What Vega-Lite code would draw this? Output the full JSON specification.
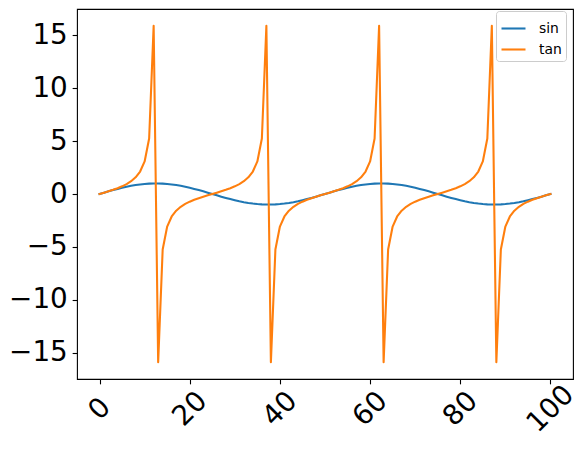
{
  "$schema": "https://vega.github.io/schema/vega-lite/v6.json",
  "width": 496,
  "height": 370,
  "autosize": {"type": "none"},
  "padding": {"left": 77, "top": 9, "right": 15, "bottom": 72},
  "background": "white",
  "data": {
    "values": [
      {"x":0,"sin":0,"tan":0},
      {"x":1,"sin":0.12533,"tan":0.12633},
      {"x":2,"sin":0.24869,"tan":0.25676},
      {"x":3,"sin":0.36812,"tan":0.39593},
      {"x":4,"sin":0.48175,"tan":0.54975},
      {"x":5,"sin":0.58779,"tan":0.72654},
      {"x":6,"sin":0.68455,"tan":0.93906},
      {"x":7,"sin":0.77051,"tan":1.20879},
      {"x":8,"sin":0.84433,"tan":1.57575},
      {"x":9,"sin":0.90483,"tan":2.12511},
      {"x":10,"sin":0.95106,"tan":3.07768},
      {"x":11,"sin":0.98229,"tan":5.24218},
      {"x":12,"sin":0.99803,"tan":15.89454},
      {"x":13,"sin":0.99803,"tan":-15.89454},
      {"x":14,"sin":0.98229,"tan":-5.24218},
      {"x":15,"sin":0.95106,"tan":-3.07768},
      {"x":16,"sin":0.90483,"tan":-2.12511},
      {"x":17,"sin":0.84433,"tan":-1.57575},
      {"x":18,"sin":0.77051,"tan":-1.20879},
      {"x":19,"sin":0.68455,"tan":-0.93906},
      {"x":20,"sin":0.58779,"tan":-0.72654},
      {"x":21,"sin":0.48175,"tan":-0.54975},
      {"x":22,"sin":0.36812,"tan":-0.39593},
      {"x":23,"sin":0.24869,"tan":-0.25676},
      {"x":24,"sin":0.12533,"tan":-0.12633},
      {"x":25,"sin":0,"tan":0},
      {"x":26,"sin":-0.12533,"tan":0.12633},
      {"x":27,"sin":-0.24869,"tan":0.25676},
      {"x":28,"sin":-0.36812,"tan":0.39593},
      {"x":29,"sin":-0.48175,"tan":0.54975},
      {"x":30,"sin":-0.58779,"tan":0.72654},
      {"x":31,"sin":-0.68455,"tan":0.93906},
      {"x":32,"sin":-0.77051,"tan":1.20879},
      {"x":33,"sin":-0.84433,"tan":1.57575},
      {"x":34,"sin":-0.90483,"tan":2.12511},
      {"x":35,"sin":-0.95106,"tan":3.07768},
      {"x":36,"sin":-0.98229,"tan":5.24218},
      {"x":37,"sin":-0.99803,"tan":15.89454},
      {"x":38,"sin":-0.99803,"tan":-15.89454},
      {"x":39,"sin":-0.98229,"tan":-5.24218},
      {"x":40,"sin":-0.95106,"tan":-3.07768},
      {"x":41,"sin":-0.90483,"tan":-2.12511},
      {"x":42,"sin":-0.84433,"tan":-1.57575},
      {"x":43,"sin":-0.77051,"tan":-1.20879},
      {"x":44,"sin":-0.68455,"tan":-0.93906},
      {"x":45,"sin":-0.58779,"tan":-0.72654},
      {"x":46,"sin":-0.48175,"tan":-0.54975},
      {"x":47,"sin":-0.36812,"tan":-0.39593},
      {"x":48,"sin":-0.24869,"tan":-0.25676},
      {"x":49,"sin":-0.12533,"tan":-0.12633},
      {"x":50,"sin":0,"tan":0},
      {"x":51,"sin":0.12533,"tan":0.12633},
      {"x":52,"sin":0.24869,"tan":0.25676},
      {"x":53,"sin":0.36812,"tan":0.39593},
      {"x":54,"sin":0.48175,"tan":0.54975},
      {"x":55,"sin":0.58779,"tan":0.72654},
      {"x":56,"sin":0.68455,"tan":0.93906},
      {"x":57,"sin":0.77051,"tan":1.20879},
      {"x":58,"sin":0.84433,"tan":1.57575},
      {"x":59,"sin":0.90483,"tan":2.12511},
      {"x":60,"sin":0.95106,"tan":3.07768},
      {"x":61,"sin":0.98229,"tan":5.24218},
      {"x":62,"sin":0.99803,"tan":15.89454},
      {"x":63,"sin":0.99803,"tan":-15.89454},
      {"x":64,"sin":0.98229,"tan":-5.24218},
      {"x":65,"sin":0.95106,"tan":-3.07768},
      {"x":66,"sin":0.90483,"tan":-2.12511},
      {"x":67,"sin":0.84433,"tan":-1.57575},
      {"x":68,"sin":0.77051,"tan":-1.20879},
      {"x":69,"sin":0.68455,"tan":-0.93906},
      {"x":70,"sin":0.58779,"tan":-0.72654},
      {"x":71,"sin":0.48175,"tan":-0.54975},
      {"x":72,"sin":0.36812,"tan":-0.39593},
      {"x":73,"sin":0.24869,"tan":-0.25676},
      {"x":74,"sin":0.12533,"tan":-0.12633},
      {"x":75,"sin":0,"tan":0},
      {"x":76,"sin":-0.12533,"tan":0.12633},
      {"x":77,"sin":-0.24869,"tan":0.25676},
      {"x":78,"sin":-0.36812,"tan":0.39593},
      {"x":79,"sin":-0.48175,"tan":0.54975},
      {"x":80,"sin":-0.58779,"tan":0.72654},
      {"x":81,"sin":-0.68455,"tan":0.93906},
      {"x":82,"sin":-0.77051,"tan":1.20879},
      {"x":83,"sin":-0.84433,"tan":1.57575},
      {"x":84,"sin":-0.90483,"tan":2.12511},
      {"x":85,"sin":-0.95106,"tan":3.07768},
      {"x":86,"sin":-0.98229,"tan":5.24218},
      {"x":87,"sin":-0.99803,"tan":15.89454},
      {"x":88,"sin":-0.99803,"tan":-15.89454},
      {"x":89,"sin":-0.98229,"tan":-5.24218},
      {"x":90,"sin":-0.95106,"tan":-3.07768},
      {"x":91,"sin":-0.90483,"tan":-2.12511},
      {"x":92,"sin":-0.84433,"tan":-1.57575},
      {"x":93,"sin":-0.77051,"tan":-1.20879},
      {"x":94,"sin":-0.68455,"tan":-0.93906},
      {"x":95,"sin":-0.58779,"tan":-0.72654},
      {"x":96,"sin":-0.48175,"tan":-0.54975},
      {"x":97,"sin":-0.36812,"tan":-0.39593},
      {"x":98,"sin":-0.24869,"tan":-0.25676},
      {"x":99,"sin":-0.12533,"tan":-0.12633},
      {"x":100,"sin":0,"tan":0}
    ]
  },
  "transform": [{"fold": ["sin", "tan"], "as": ["series", "value"]}],
  "mark": {"type": "line", "strokeWidth": 2.08, "strokeJoin": "round", "strokeCap": "square"},
  "encoding": {
    "x": {
      "field": "x", "type": "quantitative",
      "scale": {"domain": [-5, 105], "nice": false, "zero": false},
      "axis": {"title": null, "values": [0, 20, 40, 60, 80, 100], "labelAngle": -45, "labelAlign": "center", "labelBaseline": "middle", "labelPadding": 25, "format": "d", "labelOverlap": false, "labelFlush": false}
    },
    "y": {
      "field": "value", "type": "quantitative",
      "scale": {"domain": [-17.484, 17.484], "nice": false, "zero": false},
      "axis": {"title": null, "values": [-15, -10, -5, 0, 5, 10, 15], "labelPadding": 4.86, "format": "d", "labelOverlap": false, "labelFlush": false}
    },
    "color": {
      "field": "series", "type": "nominal",
      "scale": {"domain": ["sin", "tan"], "range": ["#1f77b4", "#ff7f0e"]},
      "legend": {
        "title": null, "orient": "none", "legendX": 419, "legendY": 2,
        "symbolType": "stroke", "symbolSize": 576, "symbolStrokeWidth": 2.08,
        "labelFont": "DejaVu Sans", "labelFontSize": 13.9, "labelColor": "black",
        "labelOffset": 12, "rowPadding": -3,
        "padding": 4, "strokeColor": "#cccccc", "fillColor": "rgba(255,255,255,0.8)", "cornerRadius": 3
      }
    }
  },
  "config": {
    "view": {"stroke": "black", "strokeWidth": 1.1},
    "axis": {"grid": false, "domain": false, "tickColor": "black", "tickWidth": 1.1, "tickSize": 4.86, "labelFont": "DejaVu Sans", "labelFontSize": 27.8, "labelColor": "black"}
  }
}
